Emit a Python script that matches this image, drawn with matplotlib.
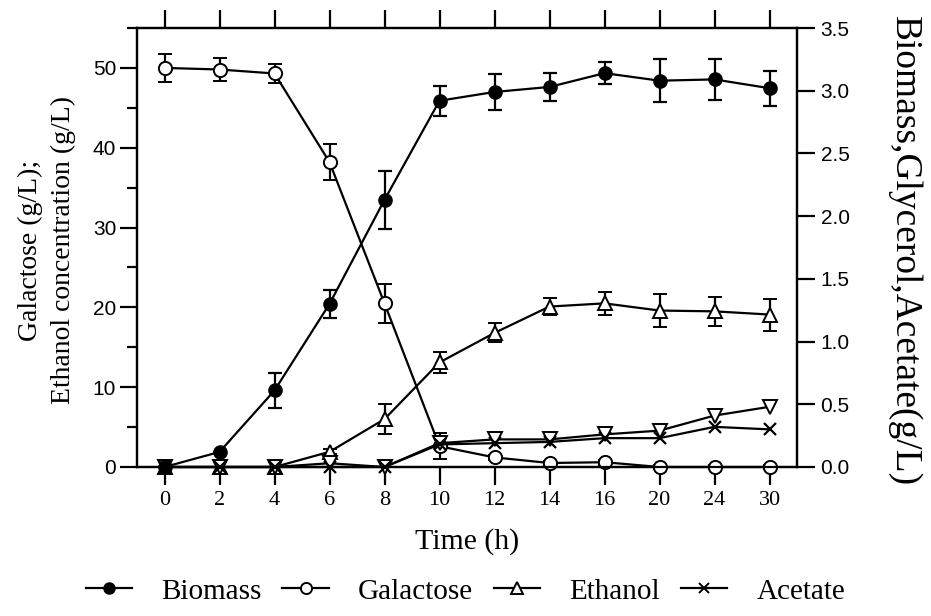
import numpy as np
import matplotlib
matplotlib.use("Agg")
import matplotlib.pyplot as plt
from matplotlib.ticker import MultipleLocator
from matplotlib.lines import Line2D

# sampling times (h), plotted as equally spaced categories
times = ["0", "2", "4", "6", "8", "10", "12", "14", "16", "20", "24", "30"]

# left axis (g/L)
galactose = [50.0, 49.8, 49.3, 38.2, 20.5, 2.6, 1.2, 0.5, 0.6, 0.0, 0.0, 0.0]
galactose_err = [1.8, 1.5, 1.2, 2.3, 2.4, 1.6, 0.3, 0.3, 0.3, 0.2, 0.2, 0.2]
ethanol = [0.0, 0.0, 0.0, 1.9, 6.0, 13.1, 16.8, 20.1, 20.5, 19.6, 19.5, 19.1]
ethanol_err = [0.0, 0.0, 0.0, 0.3, 1.9, 1.3, 1.2, 1.1, 1.4, 2.1, 1.8, 2.0]

# right axis (g/L)
biomass = [0.0, 0.12, 0.61, 1.30, 2.13, 2.92, 2.99, 3.03, 3.14, 3.08, 3.09, 3.02]
biomass_err = [0.0, 0.0, 0.14, 0.11, 0.23, 0.12, 0.14, 0.115, 0.085, 0.17, 0.165, 0.14]
glycerol = [0.0, 0.0, 0.0, 0.03, 0.0, 0.19, 0.22, 0.22, 0.26, 0.29, 0.41, 0.48]
acetate = [0.0, 0.0, 0.0, 0.0, 0.0, 0.18, 0.19, 0.20, 0.23, 0.23, 0.32, 0.30]

x = np.arange(len(times))
serif = "Liberation Serif"
sans = "Liberation Sans"

fig = plt.figure(figsize=(9.31, 6.16), dpi=100)
ax = fig.add_axes([137/931, 1-467/616, 660/931, 439/616])
ax2 = ax.twinx()

lw = 1.6
ms = 9.5
eb = dict(capsize=5, elinewidth=1.6, capthick=1.6, color="black", lw=lw, clip_on=False, zorder=3)

ax.errorbar(x, galactose, yerr=galactose_err, marker="o", ms=ms, mfc="white", mec="black",
            mew=1.4, **eb)
ax.errorbar(x, ethanol, yerr=ethanol_err, marker="^", ms=ms, mfc="white", mec="black",
            mew=1.4, **eb)

ax2.errorbar(x, biomass, yerr=biomass_err, marker="o", ms=ms, mfc="black", mec="black", **eb)
ax2.plot(x, glycerol, marker="v", ms=ms, mfc="white", mec="black", mew=1.4, color="black",
         lw=lw, clip_on=False, zorder=3)
ax2.plot(x, acetate, marker="x", ms=8, mew=1.6, color="black", lw=lw, clip_on=False, zorder=3)

ax.set_xlim(-0.5, 11.5)
ax.set_ylim(0, 55)
ax2.set_ylim(0, 3.5)

ax.set_xticks(x)
ax.set_xticklabels(times, fontfamily=serif, fontsize=16)
ax.set_yticks(np.arange(0, 51, 10))
ax.yaxis.set_minor_locator(MultipleLocator(5))
ax2.set_yticks(np.arange(0, 3.51, 0.5))
ax2.set_yticklabels([f"{v:.1f}" for v in np.arange(0, 3.51, 0.5)])

for lab in ax.get_yticklabels() + ax2.get_yticklabels():
    lab.set_fontfamily(sans)
    lab.set_fontsize(15)

ax.tick_params(axis="x", direction="out", length=13, width=1.6, top=True, labeltop=False, pad=4)
ax.tick_params(axis="y", which="major", direction="out", length=12, width=1.6, pad=3)
ax.tick_params(axis="y", which="minor", direction="out", length=7, width=1.6)
ax2.tick_params(axis="y", direction="out", length=13, width=1.6, pad=4)

for a in (ax, ax2):
    for s in a.spines.values():
        s.set_linewidth(1.6)

ax.set_xlabel("Time (h)", fontfamily=serif, fontsize=21.5, labelpad=13)

# axis titles placed by hand to sit where the original has them
fig.text(47/931, 1-250/616, "Galactose (g/L);\nEthanol concentration (g/L)", rotation=90,
         ha="center", va="center", multialignment="center", fontfamily=serif,
         fontsize=20, linespacing=1.45)
fig.text(904/931, 1-251/616, "Biomass,Glycerol,Acetate(g/L)", rotation=270,
         ha="center", va="center", fontfamily=serif, fontsize=27)

handles = [
    Line2D([], [], color="black", lw=lw, marker="o", ms=8, mfc="black", mec="black"),
    Line2D([], [], color="black", lw=lw, marker="o", ms=8, mfc="white", mec="black", mew=1.4),
    Line2D([], [], color="black", lw=lw, marker="^", ms=8, mfc="white", mec="black", mew=1.4),
    Line2D([], [], color="black", lw=lw, marker="x", ms=7, mew=1.4),
]
labels = ["Biomass", "Galactose", "Ethanol", "Acetate"]
fig.legend(handles, labels, loc="center", bbox_to_anchor=(0.5, 0.04),
           ncol=4, frameon=False, prop={"family": serif, "size": 21},
           handlelength=1.6, columnspacing=0.7, handletextpad=1.0)

fig.savefig("out.png", dpi=100)
